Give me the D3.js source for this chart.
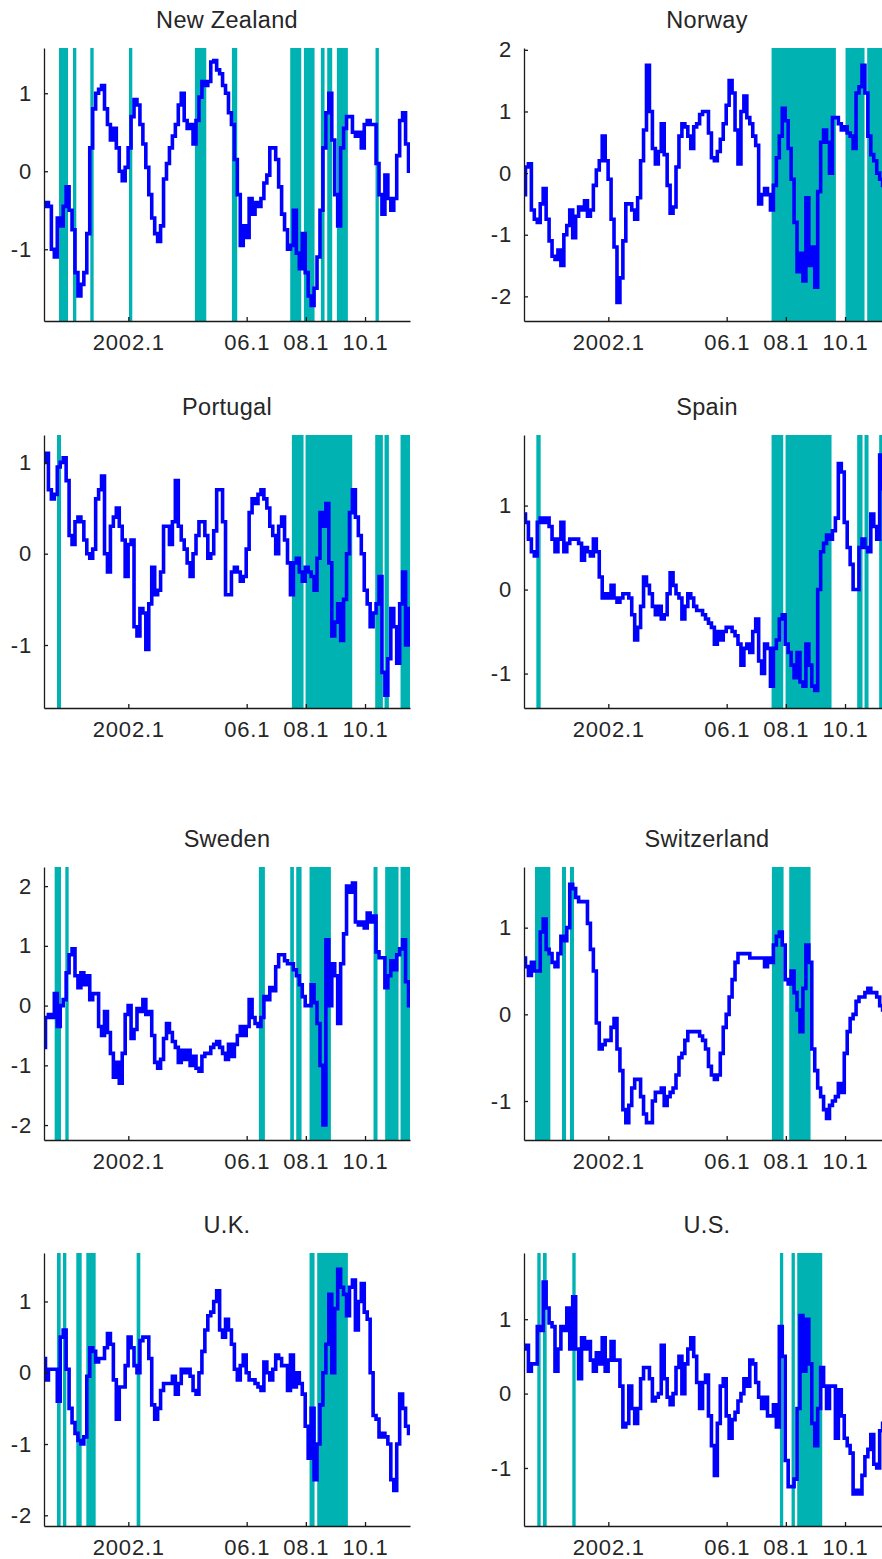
<!DOCTYPE html>
<html>
<head>
<meta charset="utf-8">
<script src="https://cdn.jsdelivr.net/npm/d3@7"></script>
<style>
  html, body { margin: 0; padding: 0; background: #ffffff; }
  svg { display: block; }
  text { font-family: "Liberation Sans", Arial, sans-serif; fill: #262626; }
</style>
</head>
<body>
<svg id="chart" width="882" height="1559"></svg>
<script>
// Sampling span of every series (decimal years), evenly spaced samples
const startYear = 1999.15;
const endYear = 2011.52;

// X-axis ticks
const xTickValues = [2002, 2006, 2008, 2010];
const xTickLabels = ["2002.1", "06.1", "08.1", "10.1"];

// Country titles
const countries = ["New Zealand", "Norway", "Portugal", "Spain", "Sweden", "Switzerland", "U.K.", "U.S."];

// Series values
const newZealand = [-0.45,-0.4,-0.45,-1.0,-1.1,-0.6,-0.7,-0.45,-0.2,-0.5,-0.75,-1.3,-1.6,-1.45,-1.3,-0.8,0.3,0.8,1.0,1.05,1.1,0.8,0.6,0.4,0.55,0.3,0.0,-0.12,0.05,0.3,0.7,0.92,0.85,0.6,0.35,0.05,-0.3,-0.6,-0.8,-0.9,-0.7,-0.1,0.1,0.3,0.45,0.6,0.85,1.0,0.65,0.55,0.6,0.35,0.65,0.95,1.15,1.1,1.15,1.4,1.42,1.3,1.25,1.1,1.0,0.75,0.6,0.15,-0.3,-0.95,-0.7,-0.85,-0.35,-0.55,-0.4,-0.45,-0.35,-0.15,-0.05,0.3,0.3,0.15,-0.2,-0.55,-0.75,-1.0,-0.95,-0.5,-1.05,-1.25,-0.8,-1.3,-1.6,-1.72,-1.5,-1.1,-0.5,0.3,0.75,1.0,0.4,-0.3,-0.7,0.3,0.55,0.7,0.7,0.5,0.45,0.5,0.3,0.6,0.65,0.6,0.6,0.1,-0.3,-0.55,-0.05,-0.35,-0.5,-0.35,0.2,0.65,0.75,0.35,0.0];
const norway = [-0.35,0.1,0.15,-0.6,-0.75,-0.8,-0.5,-0.25,-0.75,-1.1,-1.35,-1.4,-1.25,-1.5,-1.0,-0.85,-0.6,-1.05,-0.7,-0.55,-0.6,-0.45,-0.7,-0.6,-0.2,0.05,0.2,0.6,0.2,-0.1,-0.75,-1.2,-2.1,-1.7,-1.1,-0.5,-0.5,-0.6,-0.75,-0.4,0.2,0.7,1.75,1.0,0.4,0.15,0.35,0.8,0.3,-0.2,-0.65,-0.55,0.1,0.6,0.8,0.75,0.6,0.4,0.75,0.8,0.95,1.0,1.0,0.65,0.25,0.2,0.35,0.55,0.8,1.1,1.5,1.3,0.7,0.15,1.0,1.25,0.9,0.8,0.6,0.45,-0.5,-0.35,-0.25,-0.35,-0.6,-0.2,0.25,0.6,1.05,0.85,0.4,-0.1,-0.8,-1.6,-1.3,-1.75,-0.4,-1.5,-1.2,-1.85,-0.3,0.5,0.7,0.5,0.0,0.9,0.9,0.8,0.7,0.75,0.65,0.6,0.4,1.3,1.4,1.75,1.3,0.6,0.3,0.2,0.0,-0.1,-0.2,-0.1,0.0];
const portugal = [1.0,1.1,0.7,0.6,0.65,0.95,1.0,1.05,0.8,0.2,0.1,0.35,0.4,0.35,0.15,0.0,-0.05,0.05,0.6,0.7,0.85,0.0,-0.2,0.3,0.4,0.5,0.3,0.15,-0.25,0.1,0.15,-0.8,-0.9,-0.6,-0.65,-1.05,-0.55,-0.15,-0.45,-0.4,-0.2,0.3,0.3,0.1,0.35,0.8,0.3,0.15,0.05,-0.1,-0.25,0.0,0.2,0.35,0.35,0.2,-0.05,0.0,0.25,0.7,0.7,0.35,-0.45,-0.45,-0.2,-0.15,-0.2,-0.3,-0.25,0.05,0.45,0.6,0.55,0.65,0.7,0.6,0.5,0.3,0.2,0.0,0.3,0.4,0.15,-0.1,-0.45,-0.1,-0.05,-0.2,-0.3,-0.15,-0.2,-0.25,-0.4,-0.05,0.45,0.3,0.55,-0.1,-0.9,-0.75,-0.55,-0.95,-0.5,0.0,0.45,0.7,0.4,0.2,0.0,-0.4,-0.55,-0.8,-0.65,-0.55,-0.25,-1.3,-1.55,-1.15,-0.6,-0.8,-1.2,-0.55,-0.2,-1.0,-0.6];
const spain = [0.9,0.8,0.6,0.45,0.4,0.8,0.85,0.8,0.85,0.75,0.6,0.45,0.6,0.8,0.45,0.55,0.6,0.6,0.6,0.55,0.35,0.5,0.45,0.4,0.6,0.45,0.15,-0.1,-0.05,-0.1,0.05,-0.1,-0.15,-0.1,-0.05,-0.05,-0.1,-0.3,-0.6,-0.45,-0.2,0.15,0.05,-0.05,-0.2,-0.3,-0.2,-0.35,-0.3,-0.05,0.2,0.05,-0.05,-0.1,-0.35,-0.2,-0.05,-0.1,-0.2,-0.25,-0.25,-0.3,-0.35,-0.4,-0.45,-0.65,-0.5,-0.6,-0.5,-0.45,-0.45,-0.5,-0.55,-0.65,-0.9,-0.7,-0.65,-0.75,-0.5,-0.35,-0.85,-1.0,-0.65,-0.7,-1.15,-0.7,-0.6,-0.35,-0.3,-0.65,-0.75,-0.9,-1.05,-0.75,-1.1,-1.15,-0.65,-0.9,-1.15,-1.2,0.0,0.45,0.55,0.65,0.6,0.7,0.85,1.5,1.4,0.8,0.5,0.3,0.0,0.0,0.5,0.6,0.5,0.45,0.9,0.75,0.6,1.6,1.2,1.0,0.9];
const sweden = [-0.7,-0.2,-0.15,-0.2,0.2,-0.35,0.0,0.1,0.55,0.85,0.95,0.5,0.3,0.55,0.35,0.5,0.1,0.2,0.2,-0.35,-0.5,-0.1,-0.45,-0.8,-1.2,-0.95,-1.3,-0.8,-0.15,0.0,-0.55,-0.4,-0.05,-0.1,0.1,-0.15,-0.1,-0.5,-0.95,-1.05,-0.9,-0.55,-0.3,-0.45,-0.6,-0.7,-0.95,-0.75,-0.9,-0.75,-1.0,-0.85,-1.05,-1.1,-0.85,-0.8,-0.8,-0.7,-0.65,-0.6,-0.7,-0.8,-0.9,-0.65,-0.85,-0.65,-0.5,-0.35,-0.5,-0.35,0.1,-0.2,-0.3,-0.35,-0.2,0.15,0.1,0.3,0.25,0.65,0.85,0.85,0.75,0.7,0.7,0.6,0.5,0.35,0.15,0.0,0.0,0.35,0.05,-0.3,-1.0,-2.0,1.1,0.0,0.7,0.5,-0.3,0.7,1.2,2.0,1.9,2.05,1.4,1.35,1.4,1.3,1.55,1.4,1.5,0.9,0.8,0.8,0.3,0.5,0.75,0.6,0.85,0.95,1.1,0.4,0.0];
const switzerland = [0.65,0.55,0.45,0.6,0.5,0.5,0.95,1.1,0.75,0.7,0.6,0.55,0.7,0.9,0.85,1.0,1.5,1.45,1.35,1.3,1.3,1.3,1.05,0.75,0.5,-0.1,-0.4,-0.35,-0.3,-0.3,-0.15,-0.05,-0.4,-0.65,-1.1,-1.25,-1.05,-0.85,-0.75,-0.75,-0.95,-1.15,-1.25,-1.25,-1.0,-0.9,-0.9,-0.85,-1.05,-0.95,-0.9,-0.85,-0.7,-0.5,-0.45,-0.3,-0.2,-0.2,-0.2,-0.2,-0.25,-0.3,-0.4,-0.6,-0.7,-0.75,-0.7,-0.45,-0.15,0.0,0.2,0.4,0.6,0.7,0.7,0.7,0.7,0.65,0.65,0.65,0.65,0.65,0.55,0.65,0.6,0.8,0.9,0.95,0.8,0.4,0.35,0.5,0.25,0.05,-0.2,0.3,0.8,0.6,-0.4,-0.65,-0.85,-0.95,-1.1,-1.2,-1.05,-1.0,-0.95,-0.8,-0.9,-0.45,-0.2,-0.05,0.0,0.15,0.2,0.2,0.25,0.3,0.25,0.25,0.2,0.1,0.05,0.0,0.0];
const unitedKingdom = [0.2,-0.1,0.05,0.05,0.05,-0.4,0.5,0.6,0.05,-0.5,-0.7,-0.85,-0.95,-1.0,-0.9,-0.05,0.35,0.3,0.15,0.2,0.2,0.35,0.55,0.4,-0.1,-0.65,-0.2,-0.2,0.1,0.5,0.35,0.1,0.0,0.45,0.5,0.5,0.2,-0.45,-0.65,-0.5,-0.25,-0.15,-0.15,-0.15,-0.05,-0.3,-0.15,0.05,0.0,0.05,-0.05,-0.25,-0.3,0.0,0.3,0.6,0.8,0.85,1.0,1.15,0.6,0.5,0.75,0.6,0.4,0.05,-0.1,0.1,0.25,0.0,-0.1,-0.1,-0.15,-0.2,-0.25,0.15,0.0,-0.1,0.05,0.25,0.2,0.1,0.1,-0.25,0.25,-0.2,0.0,-0.15,-0.3,-0.75,-1.2,-0.5,-1.5,-1.0,-0.45,0.0,0.4,1.1,0.0,0.9,1.45,1.2,1.1,0.8,1.2,1.3,0.6,1.0,1.25,0.85,0.75,0.0,-0.6,-0.65,-0.9,-0.85,-0.9,-1.0,-1.5,-1.65,-1.0,-0.3,-0.5,-0.75,-0.85];
const unitedStates = [0.6,0.65,0.3,0.4,0.4,0.9,0.85,1.5,1.15,0.95,0.9,0.3,0.6,0.9,0.85,1.15,0.6,1.3,0.6,0.2,0.75,0.6,0.7,0.45,0.3,0.55,0.4,0.75,0.3,0.45,0.7,0.45,0.45,0.1,-0.45,-0.4,0.1,-0.2,-0.4,-0.2,0.2,0.35,0.35,0.2,-0.1,-0.05,0.0,0.65,0.2,-0.05,-0.15,0.0,0.35,0.5,0.0,0.4,0.6,0.75,0.5,0.15,-0.2,0.15,0.25,-0.3,-0.7,-1.1,-0.4,0.1,0.2,-0.3,-0.6,-0.35,-0.25,-0.1,0.0,0.2,0.1,0.45,0.4,0.15,-0.05,-0.2,-0.05,-0.3,-0.3,-0.15,-0.45,0.9,0.5,-0.9,-1.25,-1.25,-1.15,-0.2,1.05,0.3,1.0,0.4,-0.4,-0.7,-0.2,0.35,0.1,-0.2,0.1,0.1,-0.6,0.05,-0.3,-0.6,-0.7,-0.8,-1.35,-1.3,-1.35,-1.1,-0.85,-0.75,-0.55,-0.95,-1.0,-0.5,-0.4,-0.3,-0.3];

// Shaded episodes [start, end] in decimal years
const newZealandBands = [[1999.657,1999.961],[2000.130,2000.242],[2000.715,2000.828],[2002.022,2002.134],[2004.251,2004.634],[2005.501,2005.681],[2007.472,2007.844],[2007.934,2008.294],[2008.508,2008.632],[2008.722,2008.891],[2009.049,2009.420],[2010.355,2010.468]];
const norwayBands = [[2007.517,2009.691],[2010.017,2010.659],[2010.749,2011.52]];
const portugalBands = [[1999.589,1999.724],[2007.528,2007.922],[2007.990,2009.567],[2010.344,2010.603],[2010.659,2010.806],[2011.200,2011.52]];
const spainBands = [[1999.567,1999.713],[2007.517,2007.911],[2007.990,2009.544],[2010.411,2010.591],[2010.659,2010.794],[2011.154,2011.52]];
const swedenBands = [[1999.510,1999.724],[1999.871,1999.983],[2006.413,2006.616],[2007.472,2007.596],[2007.675,2007.855],[2008.125,2008.846],[2010.287,2010.422],[2010.681,2011.132],[2011.200,2011.52]];
const switzerlandBands = [[1999.522,2000.040],[2000.434,2000.569],[2000.704,2000.839],[2007.528,2007.923],[2008.114,2008.835]];
const unitedKingdomBands = [[1999.589,1999.713],[1999.792,1999.905],[2000.242,2000.423],[2000.580,2000.896],[2002.281,2002.405],[2008.125,2008.294],[2008.384,2009.420]];
const unitedStatesBands = [[1999.600,1999.713],[1999.792,1999.916],[2000.783,2000.896],[2007.799,2007.911],[2008.193,2008.305],[2008.384,2009.229]];

// Vertical ranges and ticks of each panel
const yDomains = [[-1.92,1.58],[-2.40,2.03],[-1.69,1.30],[-1.41,1.84],[-2.25,2.32],[-1.45,1.70],[-2.15,1.68],[-1.78,1.89]];
const yTicks = [[-1,0,1],[-2,-1,0,1,2],[-1,0,1],[-1,0,1],[-2,-1,0,1,2],[-1,0,1],[-2,-1,0,1],[-1,0,1]];

const seriesList = [newZealand, norway, portugal, spain, sweden, switzerland, unitedKingdom, unitedStates];
const bandList = [newZealandBands, norwayBands, portugalBands, spainBands, swedenBands, switzerlandBands, unitedKingdomBands, unitedStatesBands];

// Layout: two columns, four rows
const colLeft = [44, 524];
const rowTop = [48, 435, 867, 1253];
const plotW = 366;
const plotH = 273;

const svg = d3.select("#chart");

countries.forEach((name, k) => {
  const col = k % 2, row = Math.floor(k / 2);
  const values = seriesList[k];
  const n = values.length;
  const data = values.map((v, i) => ({ t: startYear + i * (endYear - startYear) / (n - 1), v }));

  const x = d3.scaleLinear().domain([startYear, endYear]).range([0, plotW]);
  const y = d3.scaleLinear().domain(yDomains[k]).range([plotH, 0]);

  const g = svg.append("g").attr("transform", `translate(${colLeft[col]},${rowTop[row]})`);

  const clipId = "clip" + k;
  g.append("clipPath").attr("id", clipId)
    .append("rect").attr("x", 0).attr("y", 0).attr("width", plotW).attr("height", plotH);

  const plot = g.append("g").attr("clip-path", `url(#${clipId})`);

  // Shaded episodes
  plot.selectAll("rect.band").data(bandList[k]).enter().append("rect")
    .attr("class", "band")
    .attr("x", d => x(d[0]))
    .attr("width", d => Math.max(1, x(d[1]) - x(d[0])))
    .attr("y", 0)
    .attr("height", plotH)
    .attr("fill", "#00b2b2");

  // Series line
  const line = d3.line().x(d => x(d.t)).y(d => y(d.v)).curve(d3.curveStep);
  plot.append("path").datum(data)
    .attr("d", line)
    .attr("fill", "none")
    .attr("stroke", "#0000ff")
    .attr("stroke-width", 3.6)
    .attr("stroke-linejoin", "miter");

  // Axes (ticks point inward), plain hyphen for negative labels
  const xAxis = d3.axisBottom(x).tickValues(xTickValues)
    .tickFormat((d, i) => xTickLabels[i]).tickSizeInner(-4).tickSizeOuter(0).tickPadding(13);
  const yAxis = d3.axisLeft(y).tickValues(yTicks[k])
    .tickFormat(d => String(d)).tickSizeInner(-4).tickSizeOuter(0).tickPadding(12);

  const gx = g.append("g").attr("transform", `translate(0,${plotH})`).call(xAxis);
  const gy = g.append("g").call(yAxis);
  [gx, gy].forEach(a => {
    a.select(".domain").attr("stroke", "#1a1a1a").attr("stroke-width", 1.3);
    a.selectAll(".tick line").attr("stroke", "#1a1a1a").attr("stroke-width", 1.3);
    a.selectAll(".tick text").attr("font-size", 22).attr("fill", "#262626")
      .attr("letter-spacing", "0.8px")
      .attr("font-family", "Liberation Sans, Arial, sans-serif");
  });

  // Panel title
  g.append("text")
    .attr("x", plotW / 2)
    .attr("y", -20)
    .attr("text-anchor", "middle")
    .attr("font-size", 23.5)
    .attr("letter-spacing", "0.3px")
    .text(name);
});
</script>
</body>
</html>
